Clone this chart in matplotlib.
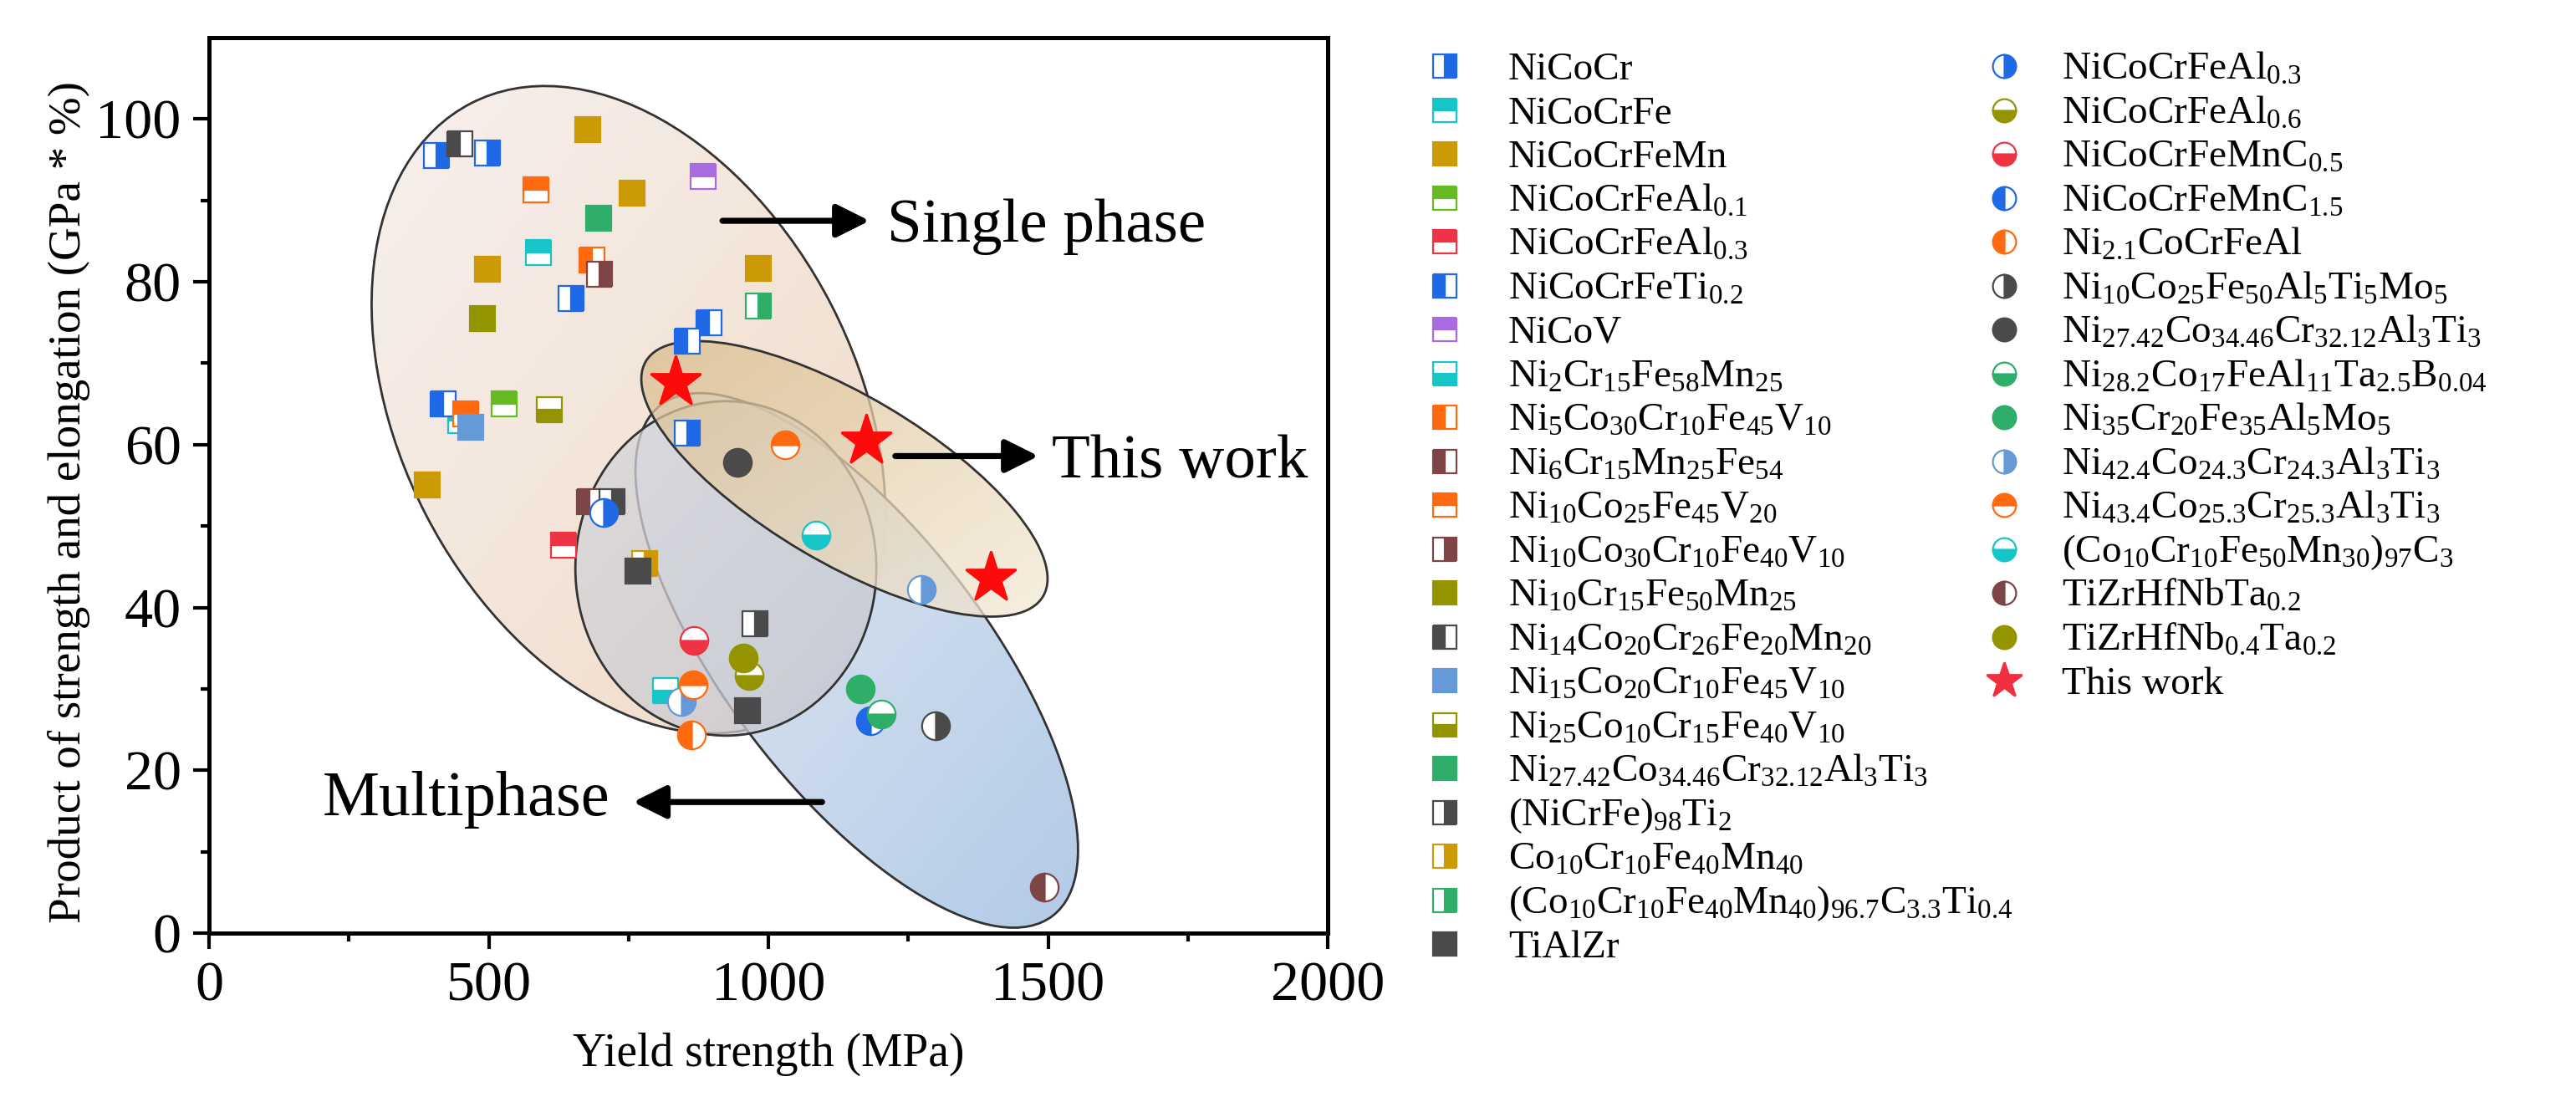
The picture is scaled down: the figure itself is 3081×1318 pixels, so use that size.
import numpy as np
import matplotlib
matplotlib.use("Agg")
import matplotlib.pyplot as plt
from matplotlib.patches import Ellipse
from matplotlib.transforms import Affine2D
from matplotlib.colors import LinearSegmentedColormap

plt.rcParams['font.family'] = ['Liberation Serif', 'DejaVu Serif']
plt.rcParams['mathtext.fontset'] = 'custom'
plt.rcParams['mathtext.rm'] = 'Liberation Serif'
plt.rcParams['mathtext.it'] = 'Liberation Serif:italic'
plt.rcParams['mathtext.bf'] = 'Liberation Serif:bold'
plt.rcParams['mathtext.default'] = 'rm'

# =====================================================
# Data: yield strength (MPa) vs product of strength and elongation (GPa*%)
# =====================================================

sq_labels = ['NiCoCr', 'NiCoCrFe', 'NiCoCrFeMn', 'NiCoCrFeAl$_{0.1}$', 'NiCoCrFeAl$_{0.3}$',
             'NiCoCrFeTi$_{0.2}$', 'NiCoV', 'Ni$_{2}$Cr$_{15}$Fe$_{58}$Mn$_{25}$',
             'Ni$_{5}$Co$_{30}$Cr$_{10}$Fe$_{45}$V$_{10}$', 'Ni$_{6}$Cr$_{15}$Mn$_{25}$Fe$_{54}$',
             'Ni$_{10}$Co$_{25}$Fe$_{45}$V$_{20}$', 'Ni$_{10}$Co$_{30}$Cr$_{10}$Fe$_{40}$V$_{10}$',
             'Ni$_{10}$Cr$_{15}$Fe$_{50}$Mn$_{25}$', 'Ni$_{14}$Co$_{20}$Cr$_{26}$Fe$_{20}$Mn$_{20}$',
             'Ni$_{15}$Co$_{20}$Cr$_{10}$Fe$_{45}$V$_{10}$', 'Ni$_{25}$Co$_{10}$Cr$_{15}$Fe$_{40}$V$_{10}$',
             'Ni$_{27.42}$Co$_{34.46}$Cr$_{32.12}$Al$_{3}$Ti$_{3}$', '(NiCrFe)$_{98}$Ti$_{2}$',
             'Co$_{10}$Cr$_{10}$Fe$_{40}$Mn$_{40}$',
             '(Co$_{10}$Cr$_{10}$Fe$_{40}$Mn$_{40}$)$_{96.7}$C$_{3.3}$Ti$_{0.4}$', 'TiAlZr']

sq_x = [[406, 498, 647, 855], [589, 450], [677, 756, 498, 982, 390], [527], [634],
        [894, 855, 419], [883], [816], [685], [680],
        [584, 459], [698], [489], [448], [468], [608],
        [697], [720, 976], [779], [982], [767, 962]]
sq_y = [[95.5, 95.8, 78.0, 61.4], [83.6, 63.0], [98.7, 90.9, 81.5, 81.7, 55.1], [65.0], [47.7],
        [75.0, 72.7, 65.0], [93.0], [29.8], [82.7], [53.0],
        [91.3, 63.8], [80.9], [75.5], [97.0], [62.1], [64.3],
        [87.8], [53.0, 38.0], [45.4], [77.0], [44.5, 27.3]]

ci_labels = ['NiCoCrFeAl$_{0.3}$', 'NiCoCrFeAl$_{0.6}$', 'NiCoCrFeMnC$_{0.5}$', 'NiCoCrFeMnC$_{1.5}$',
             'Ni$_{2.1}$CoCrFeAl', 'Ni$_{10}$Co$_{25}$Fe$_{50}$Al$_{5}$Ti$_{5}$Mo$_{5}$',
             'Ni$_{27.42}$Co$_{34.46}$Cr$_{32.12}$Al$_{3}$Ti$_{3}$',
             'Ni$_{28.2}$Co$_{17}$FeAl$_{11}$Ta$_{2.5}$B$_{0.04}$', 'Ni$_{35}$Cr$_{20}$Fe$_{35}$Al$_{5}$Mo$_{5}$',
             'Ni$_{42.4}$Co$_{24.3}$Cr$_{24.3}$Al$_{3}$Ti$_{3}$', 'Ni$_{43.4}$Co$_{25.3}$Cr$_{25.3}$Al$_{3}$Ti$_{3}$',
             '(Co$_{10}$Cr$_{10}$Fe$_{50}$Mn$_{30}$)$_{97}$C$_{3}$', 'TiZrHfNbTa$_{0.2}$',
             'TiZrHfNb$_{0.4}$Ta$_{0.2}$']

ci_x = [[706], [966], [867], [1183], [863], [1299], [945], [1202], [1164],
        [845, 1273], [866, 1030], [1085], [1494], [955]]
ci_y = [[51.7], [31.6], [35.9], [26.1], [24.3], [25.5], [57.8], [26.9], [30.0],
        [28.5, 42.2], [30.5, 60.0], [48.9], [5.7], [33.8]]

work_x = [834, 1175, 1398]
work_y = [67.7, 60.5, 43.7]

# ---- styles ----
BLUE, CYAN, GOLD, LGREEN = '#1F68E6', '#15C5C8', '#CC9A06', '#66BB22'
RED, PURPLE, ORANGE, BROWN = '#EE3344', '#A86CE0', '#FF6A10', '#7D4545'
OLIVE, DGRAY, LBLUE, GREEN = '#949400', '#4A4A4A', '#6699D8', '#2EAE68'

sq_colors = [BLUE, CYAN, GOLD, LGREEN, RED, BLUE, PURPLE, CYAN, ORANGE, BROWN, ORANGE,
             BROWN, OLIVE, DGRAY, LBLUE, OLIVE, GREEN, DGRAY, GOLD, GREEN, DGRAY]
sq_fill = ['right', 'top', 'full', 'top', 'top', 'left', 'top', 'bottom', 'left', 'left', 'top',
           'right', 'full', 'left', 'full', 'bottom', 'full', 'right', 'right', 'right', 'full']
ci_colors = [BLUE, OLIVE, RED, BLUE, ORANGE, DGRAY, DGRAY, GREEN, GREEN, LBLUE, ORANGE,
             CYAN, BROWN, OLIVE]
ci_fill = ['right', 'bottom', 'bottom', 'left', 'left', 'right', 'full', 'bottom', 'full',
           'right', 'top', 'bottom', 'left', 'full']

# =====================================================
# Figure geometry (pixels at dpi 200)
# =====================================================
FIG_W, FIG_H, DPI = 3081, 1318, 200
AX_L, AX_R, AX_T, AX_B = 250, 1588, 45, 1116
PX_X = (AX_R - AX_L) / 2000.0   # px per MPa
PX_Y = (AX_B - AX_T) / 110.0    # px per unit

fig = plt.figure(figsize=(FIG_W / DPI, FIG_H / DPI), dpi=DPI)
ax = fig.add_axes([AX_L / FIG_W, 1 - AX_B / FIG_H, (AX_R - AX_L) / FIG_W, (AX_B - AX_T) / FIG_H])


def region(cx, cy, a, b, ang, c0, c1, alpha, z):
    # ellipse given in pixel units, centred at a data point
    to_data = Affine2D().scale(1 / PX_X, 1 / PX_Y) + ax.transData
    e = Ellipse((cx * PX_X, cy * PX_Y), 2 * a, 2 * b, angle=ang, transform=to_data,
                fc='none', ec='#333333', lw=1.0, zorder=z + 0.01)
    ax.add_patch(e)
    t = np.deg2rad(ang)
    hw = np.sqrt((a * np.cos(t)) ** 2 + (b * np.sin(t)) ** 2) / PX_X
    hh = np.sqrt((a * np.sin(t)) ** 2 + (b * np.cos(t)) ** 2) / PX_Y
    gx, gy = np.meshgrid(np.linspace(0, 1, 64), np.linspace(0, 1, 64))
    cmap = LinearSegmentedColormap.from_list('g', [c0, c1])
    im = ax.imshow(gx + (1 - gy), extent=(cx - hw, cx + hw, cy - hh, cy + hh), origin='lower',
                   cmap=cmap, alpha=alpha, aspect='auto', zorder=z, interpolation='bilinear')
    im.set_clip_path(e)


region(750, 64.3, 412, 273, 117.2, '#F7F0EE', '#F0DBC6', 1.0, 1.0)     # single phase
region(1158, 33.5, 385, 155, -52.5, '#E4E9F0', '#AFC9E6', 0.95, 1.2)   # multiphase (blue)
region(924, 44.8, 180, 200, 0, '#D8D6DA', '#C6C8D0', 0.75, 1.4)        # multiphase (gray)
region(1136, 55.8, 276, 100, -30.6, '#D9BD8E', '#F4E9D6', 0.75, 1.6)   # this work

# ---- data points ----
for xs, ys, c, fs in zip(sq_x, sq_y, sq_colors, sq_fill):
    ax.plot(xs, ys, ls='none', marker='s', ms=11, fillstyle=fs, mfc=c, mfcalt='white',
            mec=c, mew=0.8, zorder=3)
for xs, ys, c, fs in zip(ci_x, ci_y, ci_colors, ci_fill):
    ax.plot(xs, ys, ls='none', marker='o', ms=12, fillstyle=fs, mfc=c, mfcalt='white',
            mec=c, mew=0.8, zorder=3)
ax.plot(work_x, work_y, ls='none', marker='*', ms=23, color='#FF0A0A', mec='#FF0A0A', zorder=4)

# ---- arrows and notes ----
arw = dict(arrowstyle='-|>', color='k', lw=2.6, mutation_scale=30, shrinkA=0, shrinkB=0)
ax.annotate('', xy=(1181, 87.5), xytext=(918, 87.5), arrowprops=arw, zorder=5)
ax.text(1212, 84.9, 'Single phase', fontsize=27, va='baseline')
ax.annotate('', xy=(1483, 58.6), xytext=(1227, 58.6), arrowprops=arw, zorder=5)
ax.text(1507, 56.0, 'This work', fontsize=27, va='baseline')
ax.annotate('', xy=(758, 16.1), xytext=(1096, 16.1), arrowprops=arw, zorder=5)
ax.text(717, 14.5, 'Multiphase', fontsize=27.5, va='baseline', ha='right')

# ---- axes ----
ax.set_xlim(0, 2000)
ax.set_ylim(0, 110)
ax.set_xticks([0, 500, 1000, 1500, 2000])
ax.set_xticks(np.arange(250, 2000, 500), minor=True)
ax.set_yticks([0, 20, 40, 60, 80, 100])
ax.set_yticks(np.arange(10, 110, 20), minor=True)
ax.tick_params(which='major', direction='out', length=7, width=1.5, labelsize=24.5, pad=5)
ax.tick_params(which='minor', direction='out', length=3.5, width=1.5)
for s in ax.spines.values():
    s.set_linewidth(1.8)
ax.set_xlabel('Yield strength (MPa)', fontsize=20)
ax.set_ylabel('Product of strength and elongation (GPa * %)', fontsize=19.8)
ax.xaxis.set_label_coords(0.5, -0.111)
ax.yaxis.set_label_coords(-0.106, 0.481)

# =====================================================
# Legend (two columns, drawn in figure pixels)
# =====================================================
lax = fig.add_axes([0, 0, 1, 1], zorder=5)
lax.set_xlim(0, FIG_W)
lax.set_ylim(FIG_H, 0)
lax.axis('off')
LEG_Y0, LEG_DY = 79, 52.5
LEG_FS = 17
cols = [(1728, 1804, 's', sq_labels, sq_colors, sq_fill),
        (2397, 2466, 'o', ci_labels, ci_colors, ci_fill)]
for mx, tx, mk, labs, colors, fills in cols:
    for i, (lab, c, fs) in enumerate(zip(labs, colors, fills)):
        yy = LEG_Y0 + i * LEG_DY
        lax.plot(mx, yy, marker=mk, ms=10, fillstyle=fs, mfc=c, mfcalt='white', mec=c, mew=0.8)
        lax.text(tx, yy + 16, lab, fontsize=LEG_FS, va='baseline')
yy = LEG_Y0 + len(ci_labels) * LEG_DY
lax.plot(2397, yy, marker='*', ms=16, color='#F03040')
lax.text(2466, yy + 16, 'This work', fontsize=LEG_FS, va='baseline')

fig.savefig('out.png', dpi=DPI)
